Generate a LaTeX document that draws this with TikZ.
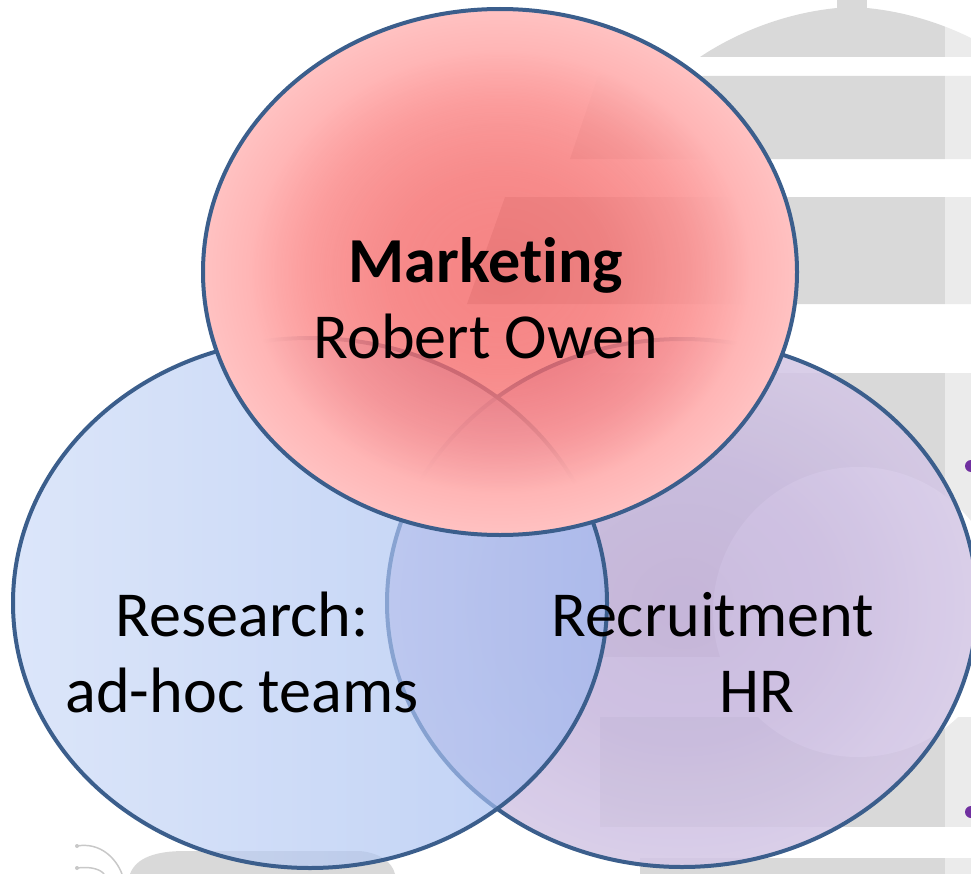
\documentclass[tikz,border=0pt]{standalone}
\usepackage{fontspec}
\setmainfont{Carlito}[Ligatures=NoCommon]
\usetikzlibrary{fadings}
\definecolor{bordercol}{RGB}{59,94,140}
\definecolor{bggray}{RGB}{217,217,217}
\definecolor{bglight}{RGB}{235,235,235}
\definecolor{bulletcol}{RGB}{112,48,160}
\definecolor{wavegray}{RGB}{200,200,200}
\definecolor{blueL}{RGB}{203,218,248}
\definecolor{blueR}{RGB}{158,185,240}
\pgfdeclareradialshading{redshade}{\pgfpoint{0bp}{0bp}}{%
  rgb(0bp)=(0.95,0.33,0.33); rgb(9bp)=(0.96,0.40,0.40); rgb(16bp)=(0.985,0.56,0.56); rgb(21bp)=(1,0.71,0.71); rgb(25bp)=(1,0.76,0.76); rgb(50bp)=(1,0.76,0.76)}
\pgfdeclareradialshading{purpleshade}{\pgfpoint{0bp}{0bp}}{%
  rgb(0bp)=(0.76,0.69,0.85); rgb(13bp)=(0.78,0.72,0.87); rgb(25bp)=(0.83,0.78,0.90); rgb(50bp)=(0.83,0.78,0.90)}
\pgfdeclareradialshading{redfadeshade}{\pgfpoint{0bp}{0bp}}{%
  color(0bp)=(transparent!28); color(9bp)=(transparent!24); color(16bp)=(transparent!12); color(21bp)=(transparent!0); color(50bp)=(transparent!0)}
\pgfdeclarefading{redfade}{\pgfuseshading{redfadeshade}}
\newcommand{\bgshapes}{%
  \fill (837,0) rectangle (867,9);
  \fill (700,57) .. controls (745,27) and (800,9) .. (852,7) .. controls (904,9) and (959,27) .. (1004,57) -- cycle;
  \fill (598,76) -- (1000,76) -- (1000,159) -- (570,159) -- cycle;
  \fill (505,197) -- (1000,197) -- (1000,304) -- (467,304) -- cycle;
  \fill (600,373) rectangle (1000,657);
  \fill (600,717) rectangle (1000,827);
  \fill (640,858) rectangle (1000,874);
  \fill[white] (858,612) circle[radius=108.75pt];
}
\begin{document}
\begin{tikzpicture}[x=0.75pt,y=-0.75pt,
  venn border/.style={draw=bordercol, line width=3pt},
  label text/.style={font=\fontsize{48.1}{57}\selectfont, text=black, inner sep=0pt}]
\useasboundingbox (0,0) rectangle (971,874);
\fill[white] (0,0) rectangle (971,874);
% background illustration
\begin{scope}[bggray]
  \bgshapes
\end{scope}
\begin{scope}
  \clip (945,0) rectangle (971,874);
  \fill[white] (945,0) rectangle (971,874);
  \begin{scope}[bglight]
    \bgshapes
  \end{scope}
\end{scope}
\fill[bulletcol] (971,466) circle[radius=4.5pt];
\fill[bulletcol] (971,812) circle[radius=4.5pt];
\fill[bggray] (130,874) .. controls (136,858) and (155,851) .. (185,851) -- (360,851) .. controls (380,853) and (392,862) .. (395,874) -- cycle;
\draw[wavegray, line width=1.1pt] (77,846) .. controls (100,842) and (116,858) .. (122,874);
\draw[wavegray, line width=1.1pt] (77,868) .. controls (92,866) and (101,870) .. (104,874);
\fill[wavegray] (77,846) circle[radius=1.5pt];
\fill[wavegray] (77,868) circle[radius=1.5pt];
% purple circle
\shade[shading=purpleshade, fill opacity=0.85] (682,603) ellipse [x radius=221.25pt, y radius=198pt];
\draw[venn border] (682,603) ellipse [x radius=221.25pt, y radius=198pt];
% blue circle
\shade[left color=blueL, right color=blueR, fill opacity=0.67] (310,603) ellipse [x radius=222.75pt, y radius=198.75pt];
\draw[venn border] (310,603) ellipse [x radius=222.75pt, y radius=198.75pt];
% red circle
\shade[shading=redshade, path fading=redfade] (500,272) ellipse [x radius=222.75pt, y radius=197.25pt];
\draw[venn border] (500,272) ellipse [x radius=222.75pt, y radius=197.25pt];
% labels (base anchor = baseline of the last line)
\node[label text, align=center, anchor=base] (marketing) at (486,358) {\textbf{Marketing}\\Robert Owen};
\node[label text, align=center, anchor=base] (research) at (242,712) {Research:\\ad-hoc teams};
\node[label text, align=left, anchor=base west] (recruitment) at (551,712) {Recruitment\\\hspace*{126pt}HR};
\end{tikzpicture}
\end{document}
